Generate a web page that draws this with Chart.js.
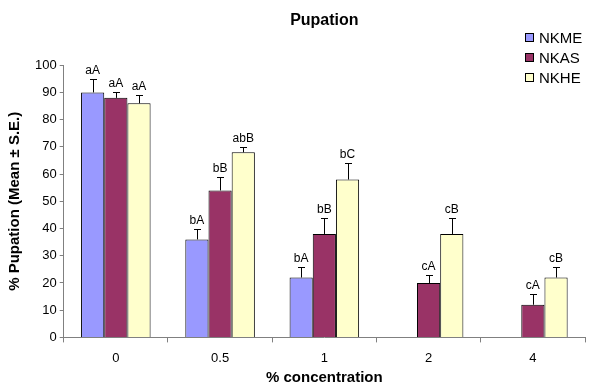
<!DOCTYPE html>
<html>
<head>
  <title>Pupation</title>
  <script src="https://cdn.jsdelivr.net/npm/chart.js"></script>
  <style>
    body { margin: 0; background: #fff; font-family: Arial, "Liberation Sans", sans-serif; }
    canvas { display: block; }
  </style>
</head>
<body>
  <canvas id="chart" width="601" height="385"></canvas>

  <script>
    var concentrations = ['0', '0.5', '1', '2', '4'];
    var seriesNames = ['NKME', 'NKAS', 'NKHE'];

    var nkme = [90, 36, 22, null, null];
    var nkas = [88, 54, 38, 20, 12];
    var nkhe = [86, 68, 58, 38, 22];

    var nkmeErr = [5, 4, 4, null, null];
    var nkasErr = [2, 5, 6, 3, 4];
    var nkheErr = [3, 2, 6, 6, 4];

    var nkmeLetters = ['aA', 'bA', 'bA', '', ''];
    var nkasLetters = ['aA', 'bB', 'bB', 'cA', 'cA'];
    var nkheLetters = ['aA', 'abB', 'bC', 'cB', 'cB'];

    var yTicks = [0, 10, 20, 30, 40, 50, 60, 70, 80, 90, 100];

    var fills = ['#9999ff', '#993366', '#ffffcc'];
    var errs = [nkmeErr, nkasErr, nkheErr];
    var letters = [nkmeLetters, nkasLetters, nkheLetters];
    var FONT = 'Arial, "Liberation Sans", sans-serif';

    // error bars (upper only) and letter labels
    var errorBarPlugin = {
      id: 'errorBars',
      afterDatasetsDraw: function(chart) {
        var ctx = chart.ctx;
        var y = chart.scales.y;
        ctx.save();
        chart.data.datasets.forEach(function(ds, i) {
          var meta = chart.getDatasetMeta(i);
          meta.data.forEach(function(bar, j) {
            var v = ds.data[j];
            if (v === null) return;
            var e = errs[i][j] || 0;
            var top = Math.round(y.getPixelForValue(v + e)) + 0.5;
            var x = Math.round(bar.x) + 0.5;
            ctx.strokeStyle = '#000';
            ctx.lineWidth = 1;
            ctx.beginPath();
            ctx.moveTo(x, bar.y);
            ctx.lineTo(x, top);
            ctx.moveTo(x - 3.5, top);
            ctx.lineTo(x + 3.5, top);
            ctx.stroke();
            ctx.fillStyle = '#000';
            ctx.font = '12px ' + FONT;
            ctx.textAlign = 'center';
            ctx.textBaseline = 'middle';
            ctx.fillText(letters[i][j], bar.x, top - 9);
          });
        });
        ctx.restore();
      }
    };

    // legend box top right
    var legendPlugin = {
      id: 'sideLegend',
      afterDraw: function(chart) {
        var ctx = chart.ctx;
        ctx.save();
        ctx.font = '15px ' + FONT;
        ctx.textBaseline = 'middle';
        ctx.textAlign = 'left';
        chart.data.datasets.forEach(function(ds, i) {
          var cy = 38 + i * 20;
          ctx.fillStyle = ds.backgroundColor;
          ctx.fillRect(525.5, cy - 4.5, 8, 8);
          ctx.strokeStyle = '#000';
          ctx.lineWidth = 1;
          ctx.strokeRect(525.5, cy - 4.5, 8, 8);
          ctx.fillStyle = '#000';
          ctx.fillText(ds.label, 539, cy + 1);
        });
        ctx.restore();
      }
    };

    var ctx = document.getElementById('chart').getContext('2d');
    new Chart(ctx, {
      type: 'bar',
      data: {
        labels: concentrations,
        datasets: [nkme, nkas, nkhe].map(function(d, i) {
          return {
            label: seriesNames[i],
            data: d,
            backgroundColor: fills[i],
            borderColor: '#000',
            borderWidth: 1,
            categoryPercentage: 0.667,
            barPercentage: 1
          };
        })
      },
      plugins: [errorBarPlugin, legendPlugin],
      options: {
        responsive: false,
        animation: false,
        devicePixelRatio: 1,
        layout: { padding: { left: 6, right: 16, top: 0, bottom: -2 } },
        plugins: {
          legend: { display: false },
          tooltip: { enabled: false },
          title: {
            display: true,
            fullSize: false,
            text: 'Pupation',
            color: '#000',
            font: { family: FONT, size: 16, weight: 'bold' },
            padding: { top: 11, bottom: 35 }
          }
        },
        scales: {
          x: {
            grid: { display: true, drawOnChartArea: false, drawTicks: true, tickLength: 5, color: '#808080', offset: true },
            border: { color: '#808080' },
            ticks: { color: '#000', font: { family: FONT, size: 13 }, padding: 8 },
            title: {
              display: true,
              text: '% concentration',
              color: '#000',
              font: { family: FONT, size: 15, weight: 'bold' },
              padding: { top: -5, bottom: 0 }
            }
          },
          y: {
            min: 0,
            max: 100,
            afterBuildTicks: function(axis) {
              axis.ticks = yTicks.map(function(v) { return { value: v }; });
            },
            grid: { display: true, drawOnChartArea: false, drawTicks: true, tickLength: 4, color: '#808080' },
            border: { color: '#808080' },
            ticks: { color: '#000', font: { family: FONT, size: 13 }, padding: 3 },
            title: {
              display: true,
              text: '% Pupation (Mean ± S.E.)',
              color: '#000',
              font: { family: FONT, size: 15, weight: 'bold' },
              padding: { top: 0, bottom: 8 }
            }
          }
        }
      }
    });
  </script>
</body>
</html>
